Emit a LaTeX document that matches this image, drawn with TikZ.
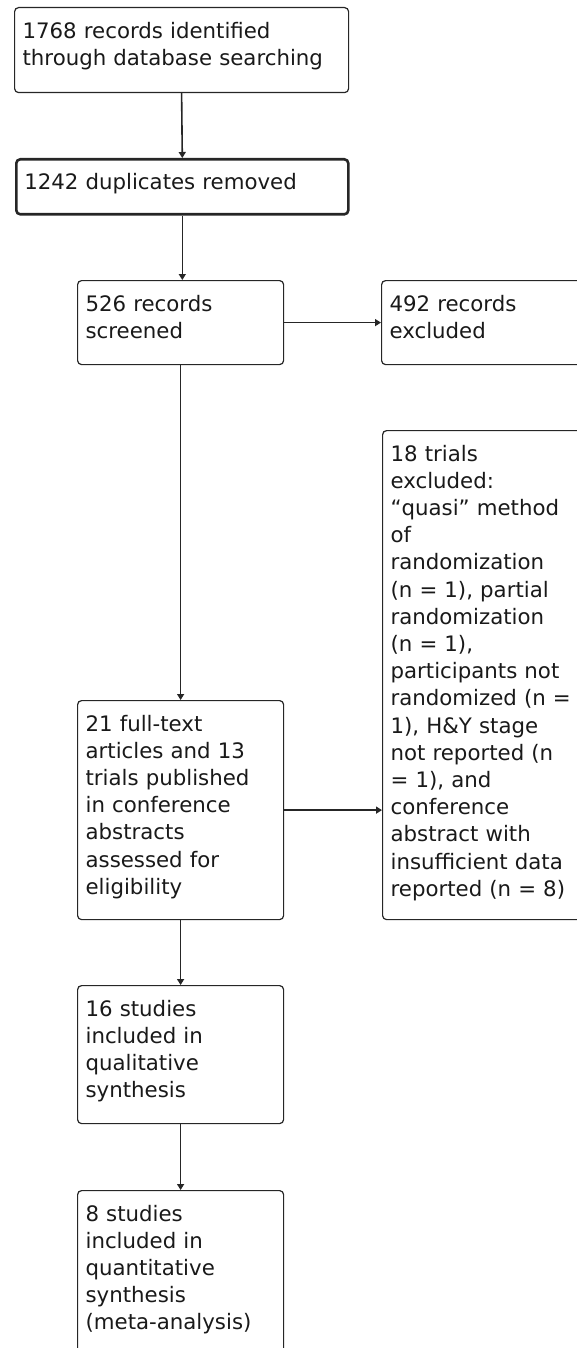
\documentclass[tikz,border=0pt]{standalone}
\usepackage{fontspec}
\setmainfont{DejaVu Sans}
\usetikzlibrary{arrows.meta,positioning,calc}

\begin{document}
\begin{tikzpicture}[>={Triangle[length=6pt,width=7pt]}, x=1pt, y=-1pt,
  flowbox/.style={draw=black!85, line width=1.2pt, rounded corners=4pt,
    anchor=north west, align=left, inner xsep=8pt, inner ysep=0pt,
    text height=30.5pt, text=black!90,
    font=\fontsize{21.3}{27.2}\selectfont},
  widebox/.style={flowbox, text width=318pt},
  smallbox/.style={flowbox, text width=190pt},
  flowarrow/.style={->, line width=1.6pt, draw=black!85}]

  % Page size of the reference
  \useasboundingbox (0,0) rectangle (576,1348);

  % Identification
  \node[widebox, text depth=54.5pt] (records) at (14,7)
    {1768 records identified\\through database searching};
  \node[widebox, text width=316pt, line width=2.6pt, text depth=24.5pt] (duplicates) at (15,158)
    {1242 duplicates removed};

  % Screening
  \node[smallbox, text depth=53.5pt] (screened) at (77,280)
    {526 records\\screened};
  \node[smallbox, text depth=53.5pt] (excluded) at (381,280)
    {492 records\\excluded};

  % Eligibility
  \node[smallbox, text depth=188.5pt] (fulltext) at (77,700)
    {21 full-text\\articles and 13\\trials published\\in conference\\abstracts\\assessed for\\eligibility};
  \node[smallbox, text depth=458.5pt] (trialsout) at (382,430)
    {18 trials\\excluded:\\“quasi” method\\of\\randomization\\(n = 1), partial\\randomization\\(n = 1),\\participants not\\randomized (n =\\1), H\&Y stage\\not reported (n\\= 1), and\\conference\\abstract with\\insufficient data\\reported (n = 8)};

  % Included
  \node[smallbox, text depth=107.5pt] (qualitative) at (77,985)
    {16 studies\\included in\\qualitative\\synthesis};
  \node[smallbox, text depth=170pt] (quantitative) at (77,1190)
    {8 studies\\included in\\quantitative\\synthesis\\(meta-analysis)};

  % Arrows
  \draw[flowarrow] (records.south) -- (duplicates.north);
  \draw[flowarrow] (duplicates.south) -- (duplicates.south |- screened.north);
  \draw[flowarrow] (screened.east) -- (screened.east -| excluded.west);
  \draw[flowarrow] (screened.south) -- (fulltext.north);
  \draw[flowarrow] (fulltext.east) -- (fulltext.east -| trialsout.west);
  \draw[flowarrow] (fulltext.south) -- (qualitative.north);
  \draw[flowarrow] (qualitative.south) -- (quantitative.north);
\end{tikzpicture}
\end{document}
